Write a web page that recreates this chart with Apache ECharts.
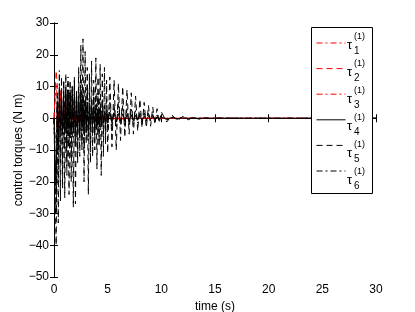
<!DOCTYPE html>
<html>
<head>
<meta charset="utf-8">
<script src="https://cdn.jsdelivr.net/npm/echarts@6/dist/echarts.min.js"></script>
<style>html,body{margin:0;padding:0;background:#fff}#c{width:415px;height:312px}</style>
</head>
<body>
<div id="c"></div>
<script>
// time samples (s)
var t = [0,0.1,0.2,0.3,0.4,0.5,0.6,0.7,0.8,0.9,1,1.1,1.2,1.3,1.4,1.5,1.6,1.7,1.8,1.9,2,2.1,2.2,2.3,2.4,2.5,2.6,2.7,2.8,2.9,3,3.1,3.2,3.3,3.4,3.5,3.6,3.7,3.8,3.9,4,4.1,4.2,4.3,4.4,4.5,4.6,4.7,4.8,4.9,5,
  5.2,5.4,5.6,5.8,6,6.2,6.4,6.6,6.8,7,7.2,7.4,7.6,7.8,8,8.2,8.4,8.6,8.8,9,9.2,9.4,9.6,9.8,10,
  10.5,11,11.5,12,12.5,13,13.5,14,14.5,15,
  17.5,20,25,30];

var tau1 = [0,5,11,6,-3,4,7,0,-4,2, 5,-1,-3,2,3,-1,-2,1,2,-1, -2,1,1.5,-1,-1,1,1.2,-0.8,-1,0.8, 1,-0.6,-0.8,0.6,0.8,-0.5,-0.6,0.5,0.6,-0.4, -0.5,0.4,0.5,-0.3,-0.4,0.3,0.4,-0.3,-0.3,0.2, 0.3,
  -0.3,0.3,-0.2,0.3,-0.2,0.2,-0.2,0.2,-0.1,0.2, -0.1,0.1,-0.1,0.1,-0.1,0.1,0,0.1,0,0, 0,0,0,0,0,
  0,0,0,0,0,0,0,0,0,0,
  0,0,0,0];
var tau2 = [0,8,15,11,-2,6,9,2,-3,3, 5,-1,-3,2,3,-1,-2.5,1,2,-1, -2,1.5,1,-1.5,-1,1.2,0.8,-1,-1.2,0.8, 0.6,-0.8,-1,0.6,0.5,-0.7,-0.5,0.6,0.4,-0.5, -0.4,0.5,0.3,-0.4,-0.3,0.4,0.2,-0.3,-0.2,0.3, 0.2,
  -0.3,0.2,-0.2,0.2,-0.2,0.2,-0.1,0.1,-0.1,0.1, -0.1,0.1,0,0.1,0,0,0,0,0,0, 0,0,0,0,0,
  0,0,0,0,0,0,0,0,0,0,
  0,0,0,0];
var tau3 = [0,-5,-8,2,-4,3,-2,4,-3,1, -2,3,-1,-2,2,1,-3,2,-1,1, -1.5,1.5,-1,1,-1.2,0.8,-0.8,1,-0.6,0.7, -0.7,0.5,-0.5,0.6,-0.5,0.4,-0.4,0.5,-0.3,0.4, -0.3,0.3,-0.3,0.3,-0.2,0.3,-0.2,0.2,-0.2,0.2, -0.1,
  0.2,-0.1,0.1,-0.1,0.1,-0.1,0.1,-0.1,0.1,0, 0,0,0,0,0,0,0,0,0,0, 0,0,0,0,0,
  0,0,0,0,0,0,0,0,0,0,
  0,0,0,0];
var tau4 = [0,-12,-22,5,-10,8,-4,7,-5,8, -4,9,-5,9,-4,8,-5,9,-3,8, -5,7,-4,6,-5,7,-3,6,-4,5, -3,5,-4,4,-3,4,-2,3.5,-3,3, -2.5,3,-2,2.5,-2,2.5,-1.5,2,-2,2, -1.5,
  2,-1.5,1.8,-1.2,1.5,-1,1.4,-1,1.2,-0.8, 1,-0.8,0.9,-0.6,0.8,-0.5,0.7,-0.5,0.6,-0.4, 0.5,-0.3,0.4,-0.3,0.3,
  -0.2,0.2,-0.1,0.1,0,0,0,0,0,0,
  0,0,0,0];
var tau5 = [0,-22,-40,4,-33,10,-26,13,-22,12, -25,14,-18,11,-24,12,-20,10,-28,13, -27,9,-14,16,-12,23,-10,25,-20,21, -8,16,-24,14,-14,18,-12,12,-10,19, -16,13,-9,17,-18,14,-12,16,-8,12, -11,
  13,-9,12,-10,11,-7,10,-6,9,-5, 8,-5,7,-4,6,-3,5,-3,4,-2.5, 3.5,-2,3,-1.5,2,
  -1.2,1,-0.8,0.6,-0.5,0.4,-0.3,0.2,-0.1,0.1,
  0,0,0,0];
var tau6 = [0,-15,-30,8,-20,15,-14,9,-16,12, -10,8,-14,13,-8,9,-12,10,-6,12, -9,8,-11,10,-6,12,-8,9,-10,7, -5,10,-7,8,-9,6,-5,9,-6,7, -4,8,-7,5,-3,6,-5,4,-4,6, -3,
  5,-4,4,-3,5,-2,4,-3,3,-2, 3,-2,2.5,-1.5,2,-1,2,-1,1.5,-0.8, 1.2,-0.6,1,-0.5,0.8,
  -0.5,0.4,-0.3,0.3,-0.2,0.2,-0.1,0.1,0,0,
  0,0,0,0];

var xTicks = [0,5,10,15,20,25,30];
var yTicks = [-50,-40,-30,-20,-10,0,10,20,30];
var seriesNames = ['tau1','tau2','tau3','tau4','tau5','tau6'];
var legendSub = ['1','2','3','4','5','6'];

var FONT = 'Liberation Sans, Arial, Helvetica, sans-serif';
var styles = [
  {color:'#ff0000', type:[6,3,2,3]},
  {color:'#ff0000', type:[6,4]},
  {color:'#ff0000', type:[6,3,2,3]},
  {color:'#000000', type:'solid'},
  {color:'#000000', type:[6,4]},
  {color:'#000000', type:[6,3,2,3]}
];
var all = [tau1,tau2,tau3,tau4,tau5,tau6];

var series = all.map(function(s, k){
  return {
    name: seriesNames[k],
    type:'line', symbol:'none', animation:false,
    xAxisIndex:0, yAxisIndex:0,
    color: styles[k].color,
    itemStyle:{color:styles[k].color},
    lineStyle:{color:styles[k].color, type:styles[k].type, width:1},
    data: t.map(function(x,i){return [x, s[i]];}),
    z: 2
  };
});

var graphics = [];
var lx = 311, ly = 27, lw = 61, lh = 166;
graphics.push({type:'rect', shape:{x:lx+0.5, y:ly+0.5, width:lw, height:lh}, style:{fill:'#fff', stroke:'#000', lineWidth:1}, z:3});
var rowY = [43,70,97,124,151,178];
for (var k=0;k<6;k++){
  var y = rowY[k];
  graphics.push({type:'text', x:347, y:y+2, style:{text:'τ', font:'13px '+FONT, fill:'#000', textVerticalAlign:'middle'}, z:6});
  graphics.push({type:'text', x:354, y:y-6, style:{text:'(1)', font:'9px '+FONT, fill:'#000', textVerticalAlign:'middle'}, z:6});
  graphics.push({type:'text', x:354, y:y+8, style:{text:legendSub[k], font:'10px '+FONT, fill:'#000', textVerticalAlign:'middle'}, z:6});
}

function minusFmt(v){ return String(v).replace('-', '\u2212'); }

var axisCommon = {
  type:'value',
  axisLine:{show:true, lineStyle:{color:'#000', width:1}},
  axisTick:{show:true, inside:true, length:4, lineStyle:{color:'#000'}},
  splitLine:{show:false}
};

var option = {
  backgroundColor:'#fff',
  animation:false,
  grid:{left:54, right:39, top:23, bottom:35, containLabel:false, outerBoundsMode:'none'},
  legend:{
    show:true, orient:'vertical', left:316, top:36, padding:0,
    itemWidth:29, itemHeight:14, itemGap:13, selectedMode:false,
    data: seriesNames,
    formatter: function(){ return ''; },
    itemStyle:{opacity:0, borderWidth:0},
    lineStyle:{width:1},
    textStyle:{fontSize:12, fontFamily:FONT},
    z:5
  },
  xAxis:[
    Object.assign({}, axisCommon, {position:'bottom', min:0, max:30, interval:5,
      axisLabel:{color:'#000', fontSize:12, fontFamily:FONT, margin:7},
      name:'time (s)', nameLocation:'middle', nameGap:17,
      nameTextStyle:{color:'#000', fontSize:12, fontFamily:FONT}}),
    Object.assign({}, axisCommon, {position:'top', min:0, max:30, interval:5, axisLabel:{show:false}})
  ],
  yAxis:[
    Object.assign({}, axisCommon, {position:'left', min:-50, max:30, interval:10,
      axisLabel:{color:'#000', fontSize:12, fontFamily:FONT, margin:5, formatter:minusFmt},
      name:'control torques (N m)', nameLocation:'middle', nameGap:29, nameMoveOverlap:false,
      nameTextStyle:{color:'#000', fontSize:12, fontFamily:FONT}}),
    Object.assign({}, axisCommon, {position:'right', min:-50, max:30, interval:10, axisLabel:{show:false}})
  ],
  series:series,
  graphic:graphics
};

var chart = echarts.init(document.getElementById('c'), null, {renderer:'canvas'});
chart.setOption(option);
</script>
</body>
</html>
